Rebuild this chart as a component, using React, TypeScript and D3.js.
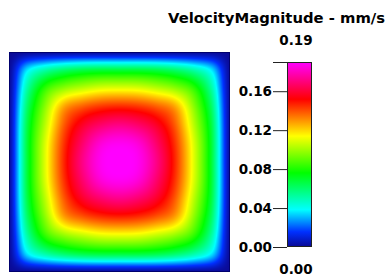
import { useEffect, useRef } from 'react';
import * as d3 from 'd3';

const title = 'VelocityMagnitude - mm/s';
const valueMin = 0.0;
const valueMax = 0.19;
const colorbarTicks = [0.0, 0.04, 0.08, 0.12, 0.16];
const colorStopPos = [0, 0.08, 0.2, 0.4, 0.6, 0.8, 1];
const colorStops = ['#0a0a96', '#0030ff', '#00ffff', '#00ff00', '#ffff00', '#ff0000', '#ff00ff'];

// velocity magnitude (mm/s) on 13x13 nodes, row 0 = top wall, col 0 = left wall
const velocity = [
  [0, 0, 0, 0, 0, 0, 0, 0, 0, 0, 0, 0, 0],
  [0, 0.036, 0.052, 0.061, 0.066, 0.068, 0.068, 0.068, 0.066, 0.061, 0.052, 0.036, 0],
  [0, 0.052, 0.084, 0.098, 0.105, 0.110, 0.111, 0.110, 0.105, 0.098, 0.084, 0.052, 0],
  [0, 0.061, 0.098, 0.128, 0.139, 0.145, 0.147, 0.145, 0.139, 0.128, 0.098, 0.061, 0],
  [0, 0.066, 0.105, 0.139, 0.158, 0.168, 0.172, 0.168, 0.158, 0.139, 0.105, 0.066, 0],
  [0, 0.068, 0.110, 0.145, 0.168, 0.184, 0.188, 0.184, 0.168, 0.145, 0.110, 0.068, 0],
  [0, 0.068, 0.111, 0.147, 0.172, 0.188, 0.190, 0.188, 0.172, 0.147, 0.111, 0.068, 0],
  [0, 0.068, 0.110, 0.145, 0.168, 0.184, 0.188, 0.184, 0.168, 0.145, 0.110, 0.068, 0],
  [0, 0.066, 0.105, 0.139, 0.158, 0.168, 0.172, 0.168, 0.158, 0.139, 0.105, 0.066, 0],
  [0, 0.061, 0.098, 0.128, 0.139, 0.145, 0.147, 0.145, 0.139, 0.128, 0.098, 0.061, 0],
  [0, 0.052, 0.084, 0.098, 0.105, 0.110, 0.111, 0.110, 0.105, 0.098, 0.084, 0.052, 0],
  [0, 0.036, 0.052, 0.061, 0.066, 0.068, 0.068, 0.068, 0.066, 0.061, 0.052, 0.036, 0],
  [0, 0, 0, 0, 0, 0, 0, 0, 0, 0, 0, 0, 0],
];

const W = 386;
const H = 280;
const plot = { x: 9, y: 52, w: 221, h: 220 };
const bar = { x: 287, y: 62, w: 25, h: 185 };
const font = '"DejaVu Sans", Verdana, sans-serif';

// catmull-rom spline through four samples
const cr = (p0: number, p1: number, p2: number, p3: number, t: number) =>
  0.5 * (2 * p1 + (-p0 + p2) * t + (2 * p0 - 5 * p1 + 4 * p2 - p3) * t * t + (-p0 + 3 * p1 - 3 * p2 + p3) * t * t * t);

const App = () => {
  const svgRef = useRef<SVGSVGElement | null>(null);

  useEffect(() => {
    const svg = d3.select(svgRef.current);
    svg.selectAll('*').remove();

    const color = d3.scaleLinear<string>()
      .domain(colorStopPos.map(p => valueMin + p * (valueMax - valueMin)))
      .range(colorStops)
      .interpolate(d3.interpolateRgb)
      .clamp(true);

    const rows = velocity.length;
    const cols = velocity[0].length;
    const at = (r: number, c: number) =>
      velocity[Math.max(0, Math.min(rows - 1, r))][Math.max(0, Math.min(cols - 1, c))];

    // raster the field
    const canvas = document.createElement('canvas');
    canvas.width = plot.w;
    canvas.height = plot.h;
    const ctx = canvas.getContext('2d')!;
    const img = ctx.createImageData(plot.w, plot.h);
    const gx = d3.scaleLinear().domain([0, plot.w]).range([0, cols - 1]);
    const gy = d3.scaleLinear().domain([0, plot.h]).range([0, rows - 1]);
    for (let py = 0; py < plot.h; py++) {
      const fy = gy(py + 0.5);
      const r = Math.min(rows - 2, Math.floor(fy));
      const ty = fy - r;
      for (let px = 0; px < plot.w; px++) {
        const fx = gx(px + 0.5);
        const c = Math.min(cols - 2, Math.floor(fx));
        const tx = fx - c;
        const colVals = [-1, 0, 1, 2].map(dr =>
          cr(at(r + dr, c - 1), at(r + dr, c), at(r + dr, c + 1), at(r + dr, c + 2), tx));
        const v = Math.max(0, cr(colVals[0], colVals[1], colVals[2], colVals[3], ty));
        const rgb = d3.rgb(color(v));
        const k = (py * plot.w + px) * 4;
        img.data[k] = rgb.r;
        img.data[k + 1] = rgb.g;
        img.data[k + 2] = rgb.b;
        img.data[k + 3] = 255;
      }
    }
    ctx.putImageData(img, 0, 0);

    svg.append('image')
      .attr('x', plot.x)
      .attr('y', plot.y)
      .attr('width', plot.w)
      .attr('height', plot.h)
      .attr('preserveAspectRatio', 'none')
      .attr('href', canvas.toDataURL());

    svg.append('rect')
      .attr('x', plot.x + 0.5)
      .attr('y', plot.y + 0.5)
      .attr('width', plot.w - 1)
      .attr('height', plot.h - 1)
      .attr('fill', 'none')
      .attr('stroke', '#00006e')
      .attr('stroke-width', 1);

    // colorbar
    const defs = svg.append('defs');
    const grad = defs.append('linearGradient')
      .attr('id', 'cbar')
      .attr('x1', 0).attr('y1', 1).attr('x2', 0).attr('y2', 0);
    colorStopPos.forEach((p, i) => {
      grad.append('stop').attr('offset', p).attr('stop-color', colorStops[i]);
    });

    const yScale = d3.scaleLinear()
      .domain([valueMin, valueMax])
      .range([bar.y + bar.h, bar.y]);

    svg.append('rect')
      .attr('x', bar.x + 0.5)
      .attr('y', bar.y + 0.5)
      .attr('width', bar.w - 1)
      .attr('height', bar.h - 1)
      .attr('fill', 'url(#cbar)')
      .attr('stroke', '#222')
      .attr('stroke-width', 1);

    const axis = d3.axisLeft(yScale)
      .tickValues(colorbarTicks)
      .tickFormat(d3.format('.2f'))
      .tickSize(14)
      .tickPadding(1);

    const g = svg.append('g')
      .attr('transform', `translate(${bar.x},0)`)
      .call(axis);
    g.select('.domain').remove();
    g.selectAll('line').attr('stroke', '#222');
    g.selectAll('text')
      .attr('font-family', font)
      .attr('font-size', 13.5)
      .attr('font-weight', 'bold')
      .attr('fill', '#000');

    // top cap line
    svg.append('line')
      .attr('x1', bar.x - 14).attr('x2', bar.x + bar.w)
      .attr('y1', yScale(valueMax) + 0.5).attr('y2', yScale(valueMax) + 0.5)
      .attr('stroke', '#222');

    const label = (txt: string, x: number, y: number, anchor: string) =>
      svg.append('text')
        .attr('x', x).attr('y', y)
        .attr('text-anchor', anchor)
        .attr('font-family', font)
        .attr('font-size', 13.5)
        .attr('font-weight', 'bold')
        .attr('fill', '#000')
        .text(txt);

    label(d3.format('.2f')(valueMax), bar.x + 9, 45, 'middle');
    label(d3.format('.2f')(valueMin), bar.x + 9, 274, 'middle');
    label(title, 385, 23, 'end')
      .attr('textLength', 217)
      .attr('lengthAdjust', 'spacingAndGlyphs');
  }, []);

  return (
    <div style={{ position: 'fixed', left: 0, top: 0, background: '#fff' }}>
      <svg ref={svgRef} width={W} height={H}></svg>
    </div>
  );
};

export default App;
